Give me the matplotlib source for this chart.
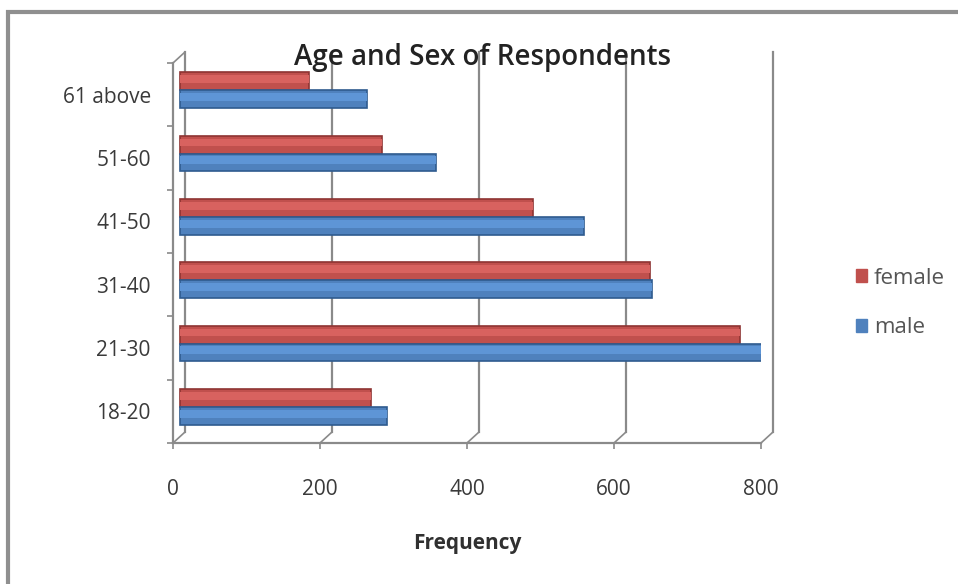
import numpy as np
import matplotlib.pyplot as plt
import matplotlib.transforms as mtransforms
from matplotlib.patches import Rectangle, Patch

# Respondents by age group and sex
age_groups = ['18-20', '21-30', '31-40', '41-50', '51-60', '61 above']
female = [260, 762, 640, 480, 275, 175]
male = [282, 796, 642, 550, 348, 255]
freq_ticks = [0, 200, 400, 600, 800]

plt.rcParams['font.family'] = ['Open Sans', 'DejaVu Sans']

RED, RED_DARK, RED_LIGHT = '#C0504D', '#8E3432', '#D8625F'
BLUE, BLUE_DARK, BLUE_LIGHT = '#4F81BD', '#2F5B8F', '#5E95D6'
GRID = '#8a8a8a'
TEXT = '#3a3a3a'

fig = plt.figure(figsize=(9.58, 5.84), dpi=100)
ax = fig.add_axes([173 / 958, 141 / 584, 588 / 958, 380 / 584])
ax.set_xlim(0, 800)
ax.set_ylim(-0.5, len(age_groups) - 0.5)

# outer chart frame
fig.patches.append(Rectangle((8 / 958, -0.1), 1.1, 1 - 12 / 584 + 0.1,
                             transform=fig.transFigure, fill=False,
                             edgecolor='#8f8f8f', lw=3))

# back wall gridlines with a little depth
dx, dy = 16, 0.17
top = len(age_groups) - 0.5
for v in freq_ticks:
    ax.plot([v + dx, v + dx], [-0.5 + dy, top + dy], color=GRID, lw=1.6,
            clip_on=False, zorder=1)
    ax.plot([v, v + dx], [-0.5, -0.5 + dy], color=GRID, lw=1.2,
            clip_on=False, zorder=1)
ax.plot([0, dx], [top, top + dy], color=GRID, lw=1.2, clip_on=False, zorder=1)

# bars sit slightly behind the front plane
bar_tr = ax.transData + mtransforms.ScaledTranslation(0.07, 0.045, fig.dpi_scale_trans)
y = np.arange(len(age_groups))
h = 0.28
ax.barh(y + h / 2, female, height=h, color=RED, edgecolor=RED_DARK, lw=1.2,
        transform=bar_tr, zorder=3)
ax.barh(y + h / 2 + h * 0.12, female, height=h * 0.45, color=RED_LIGHT, lw=0,
        transform=bar_tr, zorder=3)
ax.barh(y - h / 2, male, height=h, color=BLUE, edgecolor=BLUE_DARK, lw=1.2,
        transform=bar_tr, zorder=3)
ax.barh(y - h / 2 + h * 0.12, male, height=h * 0.45, color=BLUE_LIGHT, lw=0,
        transform=bar_tr, zorder=3)

for s in ['top', 'right']:
    ax.spines[s].set_visible(False)
for s in ['left', 'bottom']:
    ax.spines[s].set_color(GRID)
    ax.spines[s].set_linewidth(1.6)

ax.set_xticks(freq_ticks)
ax.set_xticklabels([str(t) for t in freq_ticks])
ax.tick_params(axis='x', length=4, width=1.2, color=GRID, pad=22,
               labelsize=15, labelcolor=TEXT)
ax.set_yticks(y)
ax.set_yticklabels(age_groups)
ax.set_yticks(np.arange(-0.5, len(age_groups)), minor=True)
ax.tick_params(axis='y', which='major', length=0, pad=16, labelsize=15,
               labelcolor=TEXT)
ax.tick_params(axis='y', which='minor', length=4, width=1.2, color=GRID)

fig.text(482 / 958, 1 - 57 / 584, 'Age and Sex of Respondents', ha='center',
         va='center', fontsize=20, fontweight='semibold', color='#222222')
fig.text(467 / 958, 1 - 543 / 584, 'Frequency', ha='center', va='center',
         fontsize=15, fontweight='bold', color='#303030')

handles = [Patch(facecolor=RED, edgecolor=RED), Patch(facecolor=BLUE, edgecolor=BLUE)]
fig.legend(handles, ['female', 'male'], loc='center left',
           bbox_to_anchor=(836 / 958, 1 - 303 / 584), frameon=False,
           handlelength=0.5, handleheight=0.5, handletextpad=0.3,
           labelspacing=1.3, fontsize=16, labelcolor='#555555')

fig.savefig('out.png', dpi=100)
